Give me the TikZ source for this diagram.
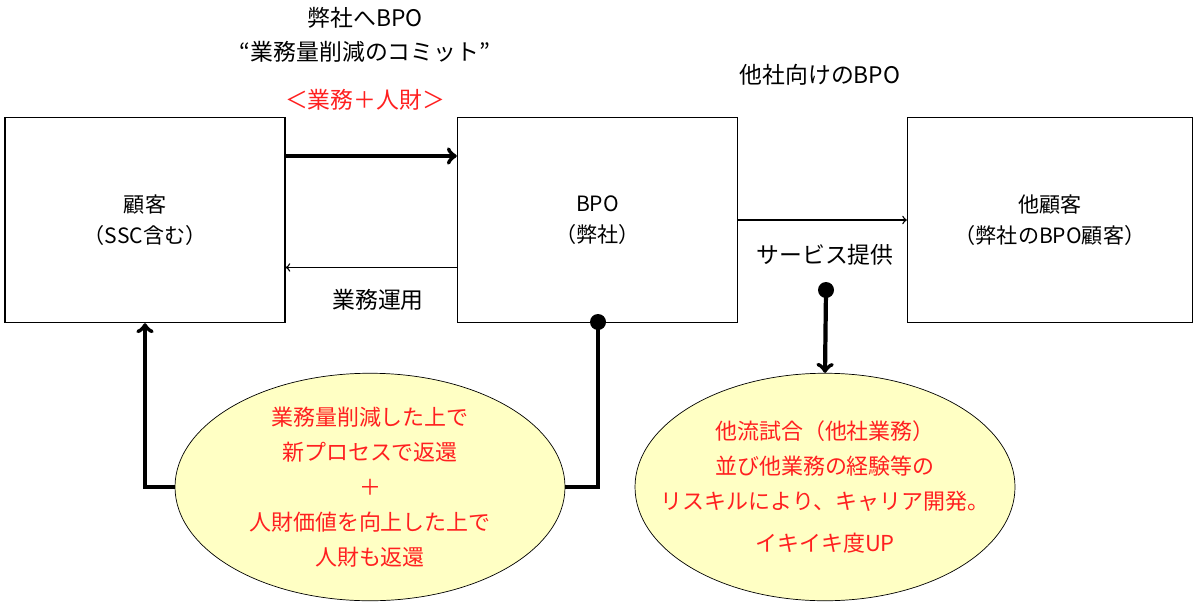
\documentclass[tikz,border=0pt]{standalone}
\usepackage{fontspec}
\setmainfont{Noto Sans CJK JP}
\usetikzlibrary{positioning}
\usetikzlibrary{calc}
\usetikzlibrary{shapes.geometric}
\definecolor{bubble}{HTML}{FFFFC4}
\definecolor{note}{HTML}{FF2020}
\begin{document}
\begin{tikzpicture}
            [
                party/.style={rectangle, draw, thick, minimum width=5.6cm, minimum height=4.1cm, align=center, font=\fontsize{12}{18}\selectfont},
                bubble/.style={ellipse, draw, fill=bubble, minimum width=7.8cm, minimum height=4.55cm, inner sep=0pt, align=center, text=note, font=\fontsize{12.5}{20}\selectfont},
                label/.style={font=\fontsize{13}{18}\selectfont, align=center},
                heavy/.style={line width=2.4pt}
            ]
            \useasboundingbox (0,0) rectangle (24,-12.24);
            %nodes
            \node[party] at (2.9,-4.4)                  (client)    {顧客\\（SSC含む）};
            \node[party] at (11.95,-4.4)                (bpo)       {BPO\\（弊社）};
            \node[party, minimum width=5.7cm] at (21,-4.4) (others) {他顧客\\（弊社のBPO顧客）};
            \node[bubble] at (7.4,-9.74)                (giveback)  {業務量削減した上で\\新プロセスで返還\\＋\\人財価値を向上した上で\\人財も返還};
            \node[bubble, minimum width=7.6cm, inner xsep=-1.1cm] at (16.5,-9.74) (growth) {他流試合（他社業務）\\並び他業務の経験等の\\リスキルにより、キャリア開発。\\[4pt]イキイキ度UP};
            \node[label] at (7.3,-0.36)                 (commit_a)  {弊社へBPO};
            \node[label] at (7.3,-1.04)                 (commit_b)  {“業務量削減のコミット”};
            \node[label, text=note] at (7.3,-2)         (commit_c)  {＜業務＋人財＞};
            \node[label] at (7.56,-6)                   (operate)   {業務運用};
            \node[label] at (16.4,-1.5)                 (external)  {他社向けのBPO};
            \node[label] at (16.5,-5.1)                 (service)   {サービス提供};
            \coordinate (dot_bpo)  at (11.96,-6.44);
            \coordinate (dot_serv) at (16.52,-5.8);
            %arrows
            \draw[->, heavy] ($(client.north east)!0.19!(client.south east)$) -- ($(bpo.north west)!0.19!(bpo.south west)$);
            \draw[->, thick] ($(bpo.north west)!0.73!(bpo.south west)$) -- ($(client.north east)!0.73!(client.south east)$);
            \draw[->, thick] (bpo.east) -- (others.west);
            \draw[->, heavy] (giveback.west) -| (client.south);
            \draw[heavy] (giveback.east) -| (dot_bpo);
            \fill (dot_bpo) circle (0.16);
            \draw[->, heavy] (dot_serv) -- (growth.north);
            \fill (dot_serv) circle (0.16);
        \end{tikzpicture}
\end{document}
